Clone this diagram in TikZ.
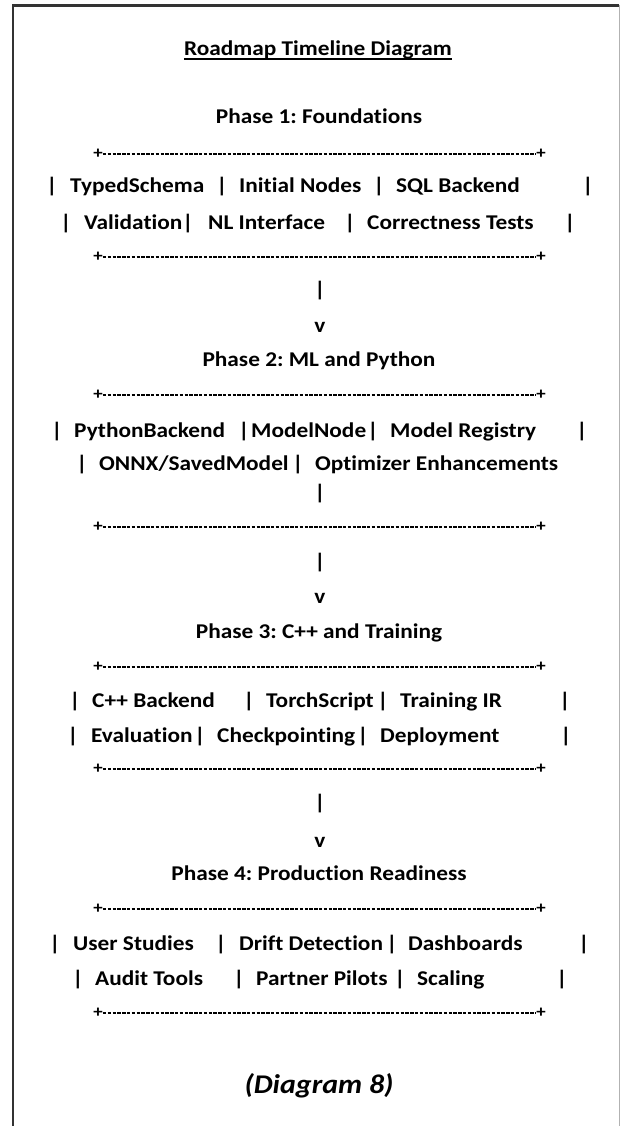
\documentclass[tikz,border=0pt]{standalone}
\usepackage{fontspec}
\setmainfont[FakeStretch=1.11, Ligatures={NoCommon}]{Carlito}
\frenchspacing
\newcommand\rowfont{\fontsize{21}{25}\selectfont\bfseries}
\newcommand\capfont{\fontsize{27}{32}\selectfont\bfseries\itshape}
\newcommand\plusfont{\fontsize{17}{20}\selectfont\bfseries}
\tikzset{
  cell/.style={anchor=base west, inner sep=0pt, font=\rowfont, text=black},
  bar/.style={anchor=base, inner sep=0pt, font=\rowfont, text=black},
  head/.style={anchor=base, inner sep=0pt, font=\rowfont, text=black},
  corner/.style={inner sep=0pt, font=\plusfont, text=black},
  rule/.style={line width=1.5pt, black, dash pattern=on 3.4pt off 1.4pt},
}
% a "+----+" separator: two corner marks joined by a dashed rule
\newcommand\plusrule[2]{%
  \node[corner] (#1-l) at (98,#2) {+};
  \node[corner] (#1-r) at (541,#2) {+};
  \draw[rule] (#1-l.east) -- (#1-r.west);
}
\begin{document}
\begin{tikzpicture}[x=1pt,y=-1pt]
\useasboundingbox (0,0) rectangle (621,1126);
\fill[white] (0,0) rectangle (621,1126);

% page frame
\draw[line width=2.2pt, black!80] (13,1126) -- (13,5.5) -- (619,5.5);
\draw[line width=1.2pt, black!30] (619.5,5.5) -- (619.5,1126);

% title
\node[head] (title) at (318,56) {Roadmap Timeline Diagram};
\draw[line width=1.3pt] ([yshift=-3pt]title.base west) -- ([yshift=-3pt]title.base east);

% ---------------- Phase 1
\node[head] (ph1) at (319,124) {Phase 1: Foundations};
\plusrule{r1top}{154}
\node[bar]  (p1a0) at (52,193)  {|};
\node[cell] (p1a1) at (70,193)  {TypedSchema};
\node[bar]  (p1a2) at (222,193) {|};
\node[cell] (p1a3) at (239,193) {Initial Nodes};
\node[bar]  (p1a4) at (379,193) {|};
\node[cell] (p1a5) at (396,193) {SQL Backend};
\node[bar]  (p1a6) at (588,193) {|};
\node[bar]  (p1b0) at (66,229)  {|};
\node[cell] (p1b1) at (84,229)  {Validation};
\node[bar]  (p1b2) at (188,229) {|};
\node[cell] (p1b3) at (208,229) {NL Interface};
\node[bar]  (p1b4) at (350,229) {|};
\node[cell] (p1b5) at (367,229) {Correctness Tests};
\node[bar]  (p1b6) at (570,229) {|};
\plusrule{r1bot}{257}
\node[bar] (link1) at (320,296) {|};
\node[bar] (tip1)  at (320,332) {v};

% ---------------- Phase 2
\node[head] (ph2) at (319,366) {Phase 2: ML and Python};
\plusrule{r2top}{395}
\node[bar]  (p2a0) at (57,437)  {|};
\node[cell] (p2a1) at (74,437)  {PythonBackend};
\node[bar]  (p2a2) at (244,437) {|};
\node[cell] (p2a3) at (251,437) {ModelNode};
\node[bar]  (p2a4) at (373,437) {|};
\node[cell] (p2a5) at (390,437) {Model Registry};
\node[bar]  (p2a6) at (582,437) {|};
\node[bar]  (p2b0) at (82,470)  {|};
\node[cell] (p2b1) at (99,470)  {ONNX/SavedModel};
\node[bar]  (p2b2) at (298,470) {|};
\node[cell] (p2b3) at (315,470) {Optimizer Enhancements};
\node[bar]  (p2c0) at (320,499) {|};
\plusrule{r2bot}{527}
\node[bar] (link2) at (320,568) {|};
\node[bar] (tip2)  at (320,603) {v};

% ---------------- Phase 3
\node[head] (ph3) at (319,638) {Phase 3: C++ and Training};
\plusrule{r3top}{667}
\node[bar]  (p3a0) at (75,707)  {|};
\node[cell] (p3a1) at (92,707)  {C++ Backend};
\node[bar]  (p3a2) at (249,707) {|};
\node[cell] (p3a3) at (266,707) {TorchScript};
\node[bar]  (p3a4) at (383,707) {|};
\node[cell] (p3a5) at (400,707) {Training IR};
\node[bar]  (p3a6) at (565,707) {|};
\node[bar]  (p3b0) at (73,742)  {|};
\node[cell] (p3b1) at (91,742)  {Evaluation};
\node[bar]  (p3b2) at (200,742) {|};
\node[cell] (p3b3) at (217,742) {Checkpointing};
\node[bar]  (p3b4) at (363,742) {|};
\node[cell] (p3b5) at (380,742) {Deployment};
\node[bar]  (p3b6) at (566,742) {|};
\plusrule{r3bot}{769}
\node[bar] (link3) at (320,809) {|};
\node[bar] (tip3)  at (320,847) {v};

% ---------------- Phase 4
\node[head] (ph4) at (319,880) {Phase 4: Production Readiness};
\plusrule{r4top}{909}
\node[bar]  (p4a0) at (55,950)  {|};
\node[cell] (p4a1) at (73,950)  {User Studies};
\node[bar]  (p4a2) at (221,950) {|};
\node[cell] (p4a3) at (239,950) {Drift Detection};
\node[bar]  (p4a4) at (392,950) {|};
\node[cell] (p4a5) at (408,950) {Dashboards};
\node[bar]  (p4a6) at (584,950) {|};
\node[bar]  (p4b0) at (78,985)  {|};
\node[cell] (p4b1) at (95,985)  {Audit Tools};
\node[bar]  (p4b2) at (239,985) {|};
\node[cell] (p4b3) at (256,985) {Partner Pilots};
\node[bar]  (p4b4) at (400,985) {|};
\node[cell] (p4b5) at (417,985) {Scaling};
\node[bar]  (p4b6) at (562,985) {|};
\plusrule{r4bot}{1013}

% caption
\node[anchor=base, inner sep=0pt, font=\capfont, text=black] (caption) at (319,1093) {(Diagram 8)};
\end{tikzpicture}
\end{document}
